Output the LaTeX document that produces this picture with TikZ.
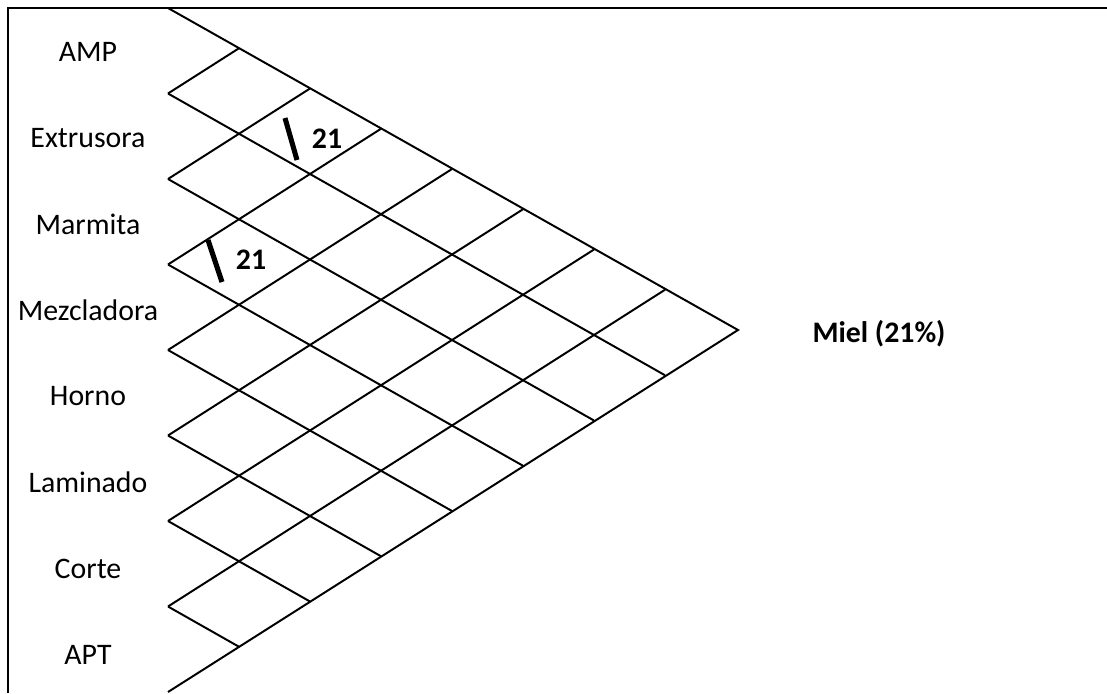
\documentclass[tikz,border=0pt]{standalone}
\usepackage{fontspec}
\setmainfont{Carlito}
\usetikzlibrary{calc}
\tikzset{
  gridline/.style={line width=1.4pt},
  dept/.style={font=\fontsize{21.2}{24}\selectfont, inner sep=0pt},
  marknum/.style={font=\fontsize{21.2}{24}\selectfont\bfseries, inner sep=0pt},
  markbar/.style={line width=3.6pt},
}

\begin{document}
\begin{tikzpicture}[x=0.025cm, y=-0.025cm]
  \useasboundingbox (0,0) rectangle (1107,693);
  % frame (left and top only)
  \draw[gridline] (8,693) -- (8,8) -- (1107,8);
  % departments
  \foreach \name/\lbl [count=\i from 0] in {amp/AMP, ext/Extrusora, mar/Marmita, mez/Mezcladora, hor/Horno, lam/Laminado, cor/Corte, apt/APT}
    \node[dept] (\name) at (88, 52+86.1*\i) {\lbl};
  % left corners of the chart
  \foreach \k in {0,...,8}
    \coordinate (L\k) at (168, 8+85.5*\k);
  \coordinate (apex) at (738, 330);
  % outer edges
  \draw[gridline] (L0) -- (apex) -- (L8);
  % lines going down to the right
  \foreach \k in {1,...,7}
    \draw[gridline] (L\k) -- ++({(8-\k)*71}, {(8-\k)*40.25});
  % lines going up to the right
  \foreach \k in {1,...,7}
    \draw[gridline] (L\k) -- ++({\k*71}, {-\k*45.25});
  % relations
  \draw[markbar] (285,118) -- (297,160);
  \node[marknum] (relA) at (327,139) {21};
  \draw[markbar] (208,240) -- (222,282);
  \node[marknum] (relB) at (251,260) {21};
  \node[marknum] (miel) at (879,334) {Miel (21\%)};
\end{tikzpicture}
\end{document}
